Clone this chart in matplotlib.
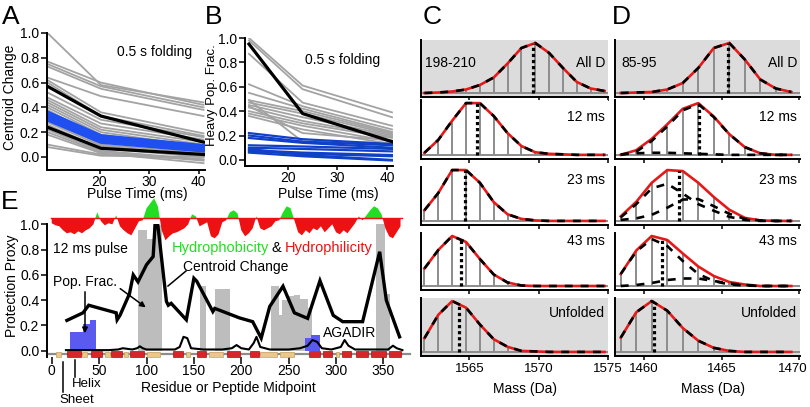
import numpy as np
import matplotlib
matplotlib.use('Agg')
import matplotlib.pyplot as plt
import matplotlib.transforms as mtransforms
from matplotlib.patches import Rectangle, FancyArrowPatch
from matplotlib.lines import Line2D

plt.rcParams['font.family'] = ['Liberation Sans', 'DejaVu Sans']

# ---------------- data ----------------
# A: centroid change vs pulse time
a_time = [9.5, 20.3, 41]
a_gray = [
    [1.00, 0.58, 0.44], [0.77, 0.60, 0.42], [0.75, 0.57, 0.40], [0.73, 0.55, 0.38],
    [0.64, 0.49, 0.33], [0.62, 0.36, 0.19], [0.60, 0.33, 0.17], [0.52, 0.30, 0.16],
    [0.48, 0.27, 0.14], [0.46, 0.24, 0.12], [0.44, 0.22, 0.10], [0.42, 0.20, 0.08],
    [0.40, 0.18, 0.07], [0.38, 0.15, 0.06], [0.33, 0.12, 0.04], [0.30, 0.10, 0.03],
    [0.28, 0.09, 0.01], [0.26, 0.07, 0.00], [0.22, 0.05, -0.02], [0.20, 0.04, -0.03],
    [0.18, 0.03, -0.05], [0.10, 0.02, -0.02], [0.08, 0.01, 0.00],
]
a_black = [[0.57, 0.33, 0.12], [0.24, 0.07, 0.02]]
a_blue = [[0.36, 0.17, 0.09], [0.34, 0.16, 0.08], [0.32, 0.14, 0.07], [0.30, 0.12, 0.05]]

# B: heavy population fraction vs pulse time
b_time = [12.2, 23, 41]
b_gray = [
    [1.00, 0.61, 0.39], [0.98, 0.58, 0.35], [0.87, 0.47, 0.28], [0.62, 0.44, 0.25],
    [0.55, 0.42, 0.23], [0.49, 0.40, 0.22], [0.47, 0.38, 0.21], [0.45, 0.35, 0.20],
    [0.43, 0.32, 0.19], [0.40, 0.30, 0.18], [0.38, 0.28, 0.15], [0.36, 0.25, 0.13],
    [0.49, 0.15, 0.14], [0.44, 0.22, 0.16],
]
b_black = [[0.95, 0.38, 0.15]]
b_blue = [[0.22, 0.17, 0.13], [0.20, 0.15, 0.12], [0.18, 0.14, 0.10], [0.12, 0.11, 0.09],
          [0.10, 0.09, 0.07], [0.08, 0.06, 0.04], [0.07, 0.05, 0.03], [0.09, 0.04, 0.00],
          [0.06, 0.03, -0.005]]

# C: isotope envelopes, peptide 198-210
c_mass = [1561.75, 1562.75, 1563.75, 1564.75, 1565.75, 1566.75, 1567.75,
          1568.75, 1569.75, 1570.75, 1571.75, 1572.75, 1573.75, 1574.75]
c_alld = [0.0, 0.01, 0.03, 0.07, 0.16, 0.31, 0.59, 0.90, 1.0, 0.80, 0.50, 0.22, 0.09, 0.04]
c_12 = [0.04, 0.29, 0.66, 1.0, 1.0, 0.75, 0.42, 0.17, 0.05, 0.02, 0.01, 0.0, 0.0, 0.0]
c_23 = [0.21, 0.55, 1.0, 1.0, 0.75, 0.37, 0.13, 0.04, 0.01, 0.0, 0.0, 0.0, 0.0, 0.0]
c_43 = [0.35, 0.72, 1.0, 0.88, 0.54, 0.23, 0.07, 0.01, 0.0, 0.0, 0.0, 0.0, 0.0, 0.0]
c_unf = [0.27, 0.73, 1.0, 0.87, 0.54, 0.25, 0.10, 0.02, 0.01, 0.0, 0.0, 0.0, 0.0, 0.0]
c_centroid = [1569.6, 1565.56, 1564.7, 1564.4, 1564.27]

# D: isotope envelopes, peptide 85-95 (total fit plus components)
d_mass = [1458.5, 1459.5, 1460.5, 1461.5, 1462.5, 1463.5, 1464.5,
          1465.5, 1466.5, 1467.5, 1468.5, 1469.5]
d_alld = [0.0, 0.01, 0.02, 0.07, 0.20, 0.50, 0.90, 1.0, 0.67, 0.27, 0.09, 0.02]
d_12 = [0.0, 0.09, 0.31, 0.59, 0.89, 1.0, 0.74, 0.40, 0.15, 0.03, 0.0, 0.0]
d_12_main = [0.0, 0.06, 0.27, 0.55, 0.86, 0.98, 0.73, 0.40, 0.15, 0.03, 0.0, 0.0]
d_12_minor = [0.01, 0.03, 0.04, 0.04, 0.03, 0.02, 0.01, 0.0, 0.0, 0.0, 0.0, 0.0]
d_23 = [0.09, 0.375, 0.75, 1.0, 0.98, 0.75, 0.47, 0.22, 0.06, 0.01, 0.0, 0.0]
d_23_a = [0.07, 0.33, 0.64, 0.73, 0.54, 0.33, 0.20, 0.08, 0.02, 0.0, 0.0, 0.0]
d_23_b = [0.02, 0.05, 0.12, 0.26, 0.42, 0.43, 0.29, 0.14, 0.04, 0.01, 0.0, 0.0]
d_43 = [0.24, 0.71, 1.0, 0.92, 0.65, 0.39, 0.20, 0.08, 0.03, 0.0, 0.0, 0.0]
d_43_main = [0.24, 0.69, 0.94, 0.80, 0.50, 0.24, 0.10, 0.03, 0.01, 0.0, 0.0, 0.0]
d_43_minor = [0.0, 0.02, 0.06, 0.12, 0.15, 0.15, 0.10, 0.05, 0.02, 0.0, 0.0, 0.0]
d_unf = [0.28, 0.78, 1.0, 0.81, 0.47, 0.22, 0.08, 0.02, 0.0, 0.0, 0.0, 0.0]
d_centroid = [1465.44, 1463.57, 1462.26, 1461.18, 1460.66]

row_labels = ['All D', '12 ms', '23 ms', '43 ms', 'Unfolded']

# E: protection along the sequence
cc_res = [16, 33, 39, 51, 68, 69, 72, 82, 86, 91, 100, 107, 109, 112, 121, 123, 126, 142,
          150, 153, 170, 172, 198, 212, 221, 230, 244, 256, 270, 283, 297, 307, 328, 346, 353, 367]
cc_val = [0.24, 0.30, 0.36, 0.335, 0.30, 0.245, 0.28, 0.45, 0.60, 0.545, 0.68, 0.745, 0.995,
          0.99, 0.39, 0.36, 0.375, 0.245, 0.573, 0.55, 0.31, 0.335, 0.26, 0.23, 0.10, 0.35,
          0.51, 0.30, 0.256, 0.554, 0.28, 0.23, 0.23, 0.783, 0.40, 0.11]
ag_res = [15, 60, 70, 75, 85, 90, 93, 96, 100, 110, 130, 135, 139, 143, 147, 160, 180, 190,
          195, 200, 208, 213, 216, 220, 230, 250, 262, 270, 275, 280, 285, 295, 305, 309, 313,
          320, 340, 355, 360, 364, 370]
ag_val = [0.005, 0.005, 0.01, 0.02, 0.01, 0.02, 0.035, 0.02, 0.01, 0.01, 0.01, 0.03, 0.11,
          0.10, 0.02, 0.01, 0.01, 0.02, 0.045, 0.02, 0.01, 0.06, 0.11, 0.03, 0.01, 0.01, 0.02,
          0.04, 0.085, 0.07, 0.02, 0.01, 0.03, 0.085, 0.04, 0.01, 0.01, 0.01, 0.04, 0.02, 0.005]
gray_bars = [(91, 100, 0.955), (100, 107, 0.88), (107, 116, 0.995), (156, 163, 0.51),
             (172, 188, 0.49), (231, 240, 0.51), (240, 243, 0.28), (243, 249, 0.40),
             (249, 256, 0.43), (256, 262, 0.44), (262, 270, 0.41), (270, 275, 0.34),
             (342, 352, 1.0), (352, 357, 0.45)]
blue_bars = [(19, 33, 0.15), (33, 40, 0.21), (40, 47, 0.245), (267, 274, 0.10), (274, 283, 0.125)]
helices = [(16, 31), (41, 53), (63, 74), (83, 97), (128, 139), (153, 163), (185, 199),
           (209, 219), (271, 283), (286, 296), (306, 316), (321, 334), (337, 353), (356, 369)]
sheets = [(4, 10), (32, 37), (56, 61), (76, 80), (100, 114), (142, 146), (166, 181),
          (220, 238), (241, 256), (300, 303)]
hyd_res = list(range(0, 372, 4))
hyd_val = [-5, -7, -8, -12, -15, -14, -16, -13, -15, -12, -10, -6, 6, -3, -7, -5, -6, 3,
           -8, -12, -15, -17, -10, -3, -2, 10, 15, 20, 12, -12, -22, -18, -15, -14, -12, -10,
           -6, 4, 2, -8, -6, -4, -18, -20, -16, -4, -2, 6, 8, 5, -12, -18, -15, -10, 2, -10,
           -12, -10, -8, -3, -2, 6, 12, 10, -2, -14, -17, -12, -15, -10, -12, -8, -14, -10,
           -6, -14, -16, -12, -15, -10, -5, 2, -2, 3, 8, 12, 10, 4, -10, -18, -20, -14, -8]

# ---------------- layout helpers (pixel coords, origin top-left) ----------------
W, H = 810, 407
fig = plt.figure(figsize=(W / 100, H / 100), dpi=100)


def ax_px(l, t, r, b):
    return fig.add_axes([l / W, 1 - b / H, (r - l) / W, (b - t) / H])


def ftext(x, y, s, **kw):
    kw.setdefault('va', 'center')
    kw.setdefault('fontsize', 10)
    return fig.text(x / W, 1 - y / H, s, **kw)


def style_axes(ax):
    for side in ['top', 'right']:
        ax.spines[side].set_visible(False)
    for side in ['left', 'bottom']:
        ax.spines[side].set_linewidth(1.4)
    ax.tick_params(direction='out', length=4, width=1.1, labelsize=10, pad=1.5)
    ax.tick_params(axis='x', length=3, pad=0.3)


GRAY = '#a3a3a3'

# ---------------- A ----------------
ax = ax_px(47, 33, 205, 170)
style_axes(ax)
for v in a_gray:
    ax.plot(a_time, v, color=GRAY, lw=1.3)
for v in a_blue:
    ax.plot(a_time, v, color='#1f4ff0', lw=2.6)
for v in a_black:
    ax.plot(a_time, v, color='black', lw=2.3)
ax.set_xlim(9.4, 41.3)
ax.set_ylim(-0.105, 1.0)
ax.set_xticks([20, 30, 40])
ax.set_yticks(np.arange(0, 1.01, 0.2))
ax.set_yticklabels(['%.1f' % t for t in np.arange(0, 1.01, 0.2)])
ax.text(0.68, 0.83, '0.5 s folding', transform=ax.transAxes, ha='center', fontsize=10)
ftext(137, 194, 'Pulse Time (ms)', ha='center')
ftext(10, 97, 'Centroid Change', ha='center', rotation=90)
ftext(2, 17, 'A', fontsize=19)

# ---------------- B ----------------
ax = ax_px(245, 38, 393, 166)
style_axes(ax)
for v in b_gray:
    ax.plot(b_time, v, color=GRAY, lw=1.3)
for v in b_blue:
    ax.plot(b_time, v, color='#1040c8', lw=1.6)
for v in b_black:
    ax.plot(b_time, v, color='black', lw=2.3)
ax.set_xlim(11.4, 41.2)
ax.set_ylim(-0.05, 1.0)
ax.set_xticks([20, 30, 40])
ax.set_yticks(np.arange(0, 1.01, 0.2))
ax.set_yticklabels(['%.1f' % t for t in np.arange(0, 1.01, 0.2)])
ax.text(0.66, 0.8, '0.5 s folding', transform=ax.transAxes, ha='center', fontsize=10)
ftext(328, 194, 'Pulse Time (ms)', ha='center')
ftext(212, 95, 'Heavy Pop. Frac.', ha='center', rotation=90, fontsize=9.5)
ftext(205, 17, 'B', fontsize=19)

# ---------------- C and D ----------------
rows = [(40, 97), (100, 159), (167, 225), (233, 290), (298, 356)]


def envelope(ax, mass, total, comps, centroid, shade, xlim, ticks, bottom):
    if shade:
        ax.set_facecolor('#dcdcdc')
    ax.axhline(0, color='#8c8c8c', lw=1.4, zorder=1)
    ax.vlines(mass, 0, total, color='#8c8c8c', lw=1.4, zorder=2)
    ax.plot(mass, total, color='#e41a1a', lw=1.9, zorder=3, solid_joinstyle='round')
    for comp in comps:
        ax.plot(mass, comp, color='black', lw=1.9, dashes=(3, 3), zorder=4)
    top = np.interp(centroid, mass, total)
    ax.plot([centroid, centroid], [0, top], color='black', lw=2.3, dashes=(1, 0.9), zorder=5)
    ax.set_xlim(*xlim)
    ax.set_ylim(-0.08, 1.06)
    for side in ['top', 'right']:
        ax.spines[side].set_visible(False)
    for side in ['left', 'bottom']:
        ax.spines[side].set_linewidth(1.4)
    ax.set_yticks([])
    ax.set_xticks(ticks)
    ax.tick_params(axis='x', direction='out', length=3, width=1.1, labelsize=9.5, pad=2)
    if not bottom:
        ax.set_xticklabels([])


c_rows = [(c_alld, [c_alld]), (c_12, [c_12]), (c_23, [c_23]), (c_43, [c_43]), (c_unf, [c_unf])]
d_rows = [(d_alld, [d_alld]), (d_12, [d_12_main, d_12_minor]), (d_23, [d_23_a, d_23_b]),
          (d_43, [d_43_main, d_43_minor]), (d_unf, [d_unf])]

for i, (t, b) in enumerate(rows):
    shade = i in (0, 4)
    axc = ax_px(421, t, 608, b)
    envelope(axc, c_mass, c_rows[i][0], c_rows[i][1], c_centroid[i], shade,
             (1561.5, 1575), [1565, 1570, 1575], i == 4)
    axd = ax_px(615, t, 800, b)
    envelope(axd, d_mass, d_rows[i][0], d_rows[i][1], d_centroid[i], shade,
             (1458.13, 1470.06), [1460, 1465, 1470], i == 4)
    if i == 4:
        fig.canvas.draw()
        last = axd.get_xticklabels()[-1]
        last.set_horizontalalignment('right')
        last.set_transform(last.get_transform() +
                           mtransforms.ScaledTranslation(9 / 100, 0, fig.dpi_scale_trans))

label_y = [63, 117, 180, 241, 313]
for i, lab in enumerate(row_labels):
    ftext(605, label_y[i], lab, ha='right')
    ftext(797, label_y[i], lab, ha='right')
ftext(425, 63, '198-210')
ftext(621, 63, '85-95')
ftext(525, 389, 'Mass (Da)', ha='center')
ftext(713, 389, 'Mass (Da)', ha='center')
ftext(423, 17, 'C', fontsize=19)
ftext(612, 17, 'D', fontsize=19)

# ---------------- E ----------------
ax = ax_px(47, 224.3, 410, 356.7)
ax.set_xlim(-5, 378)
ax.set_ylim(-0.047, 1.0)
for side in ['top', 'right', 'bottom']:
    ax.spines[side].set_visible(False)
ax.spines['left'].set_linewidth(1.4)
ax.tick_params(direction='out', length=4, width=1.1, labelsize=10, pad=1.5)
ax.tick_params(axis='x', length=5, pad=0.5)
ax.set_xticks(range(0, 351, 50))
ax.set_yticks(np.arange(0, 1.01, 0.2))
ax.set_yticklabels(['%.1f' % t for t in np.arange(0, 1.01, 0.2)])

for s, e, h in gray_bars:
    ax.add_patch(Rectangle((s, 0), e - s, h, color='#bdbdbd', lw=0, zorder=1))
for s, e, h in blue_bars:
    ax.add_patch(Rectangle((s, 0), e - s, h, color='#5a5af0', lw=0, zorder=1))
ax.plot(ag_res, ag_val, color='black', lw=1.5, zorder=3)
ax.plot(cc_res, cc_val, color='black', lw=2.4, zorder=4, solid_joinstyle='miter')

ss_y = -0.029
ax.plot([-3, 378], [ss_y, ss_y], color='#8c8c8c', lw=1.6, zorder=5, clip_on=False)
for s, e in sheets:
    ax.add_patch(Rectangle((s, ss_y - 0.02), e - s, 0.04, facecolor='#e8c88c',
                           edgecolor='#c8a060', lw=0.5, zorder=6, clip_on=False))
for s, e in helices:
    ax.add_patch(Rectangle((s, ss_y - 0.024), e - s, 0.048, facecolor='#d8252a',
                           edgecolor='#b01010', lw=0.5, zorder=7, clip_on=False))

# hydrophobicity track
axh = ax_px(47, 193, 410, 247)
axh.set_xlim(-5, 378)
axh.set_ylim(-28.7, 25.3)
axh.axis('off')
hv = np.array(hyd_val, dtype=float)
axh.fill_between(hyd_res, 0, hv, where=hv >= 0, color='#22dd22', lw=0, interpolate=True)
axh.fill_between(hyd_res, 0, hv, where=hv <= 0, color='#ee1111', lw=0, interpolate=True)
axh.plot([-1, 370], [0, 0], color='#ee1111', lw=1)

ftext(53, 249, '12 ms pulse')
ftext(172, 248, 'Hydrophobicity', color='#22dd22', fontsize=10.5)
ftext(271, 248, '&', fontsize=10.5)
ftext(285, 248, 'Hydrophilicity', color='#ee1111', fontsize=10.5)
ftext(183, 267, 'Centroid Change')
ftext(53, 282, 'Pop. Frac.')
ftext(323, 333, 'AGADIR')
ftext(228, 388, 'Residue or Peptide Midpoint', ha='center')
ftext(87, 384, 'Helix', ha='center', fontsize=9.5)
ftext(77, 400, 'Sheet', ha='center', fontsize=9.5)
ftext(12, 286, 'Protection Proxy', ha='center', rotation=90)
ftext(1, 202, 'E', fontsize=19)

# annotation lines / arrows (figure pixel coords, y from bottom)
arrow = dict(arrowstyle='-|>', color='black', lw=1.1, mutation_scale=8)
fig.add_artist(FancyArrowPatch((85, H - 289), (85, H - 336), transform=None, **arrow))
fig.add_artist(FancyArrowPatch((118, H - 287), (148, H - 309), transform=None, **arrow))
fig.add_artist(Line2D([186, 168], [H - 271, H - 286], color='black', lw=1.1, transform=None))
fig.add_artist(Line2D([75, 75], [H - 360, H - 377], color='black', lw=1.1, transform=None))
fig.add_artist(Line2D([63, 63], [H - 362, H - 392], color='black', lw=1.1, transform=None))

fig.savefig('out.png', dpi=100)
